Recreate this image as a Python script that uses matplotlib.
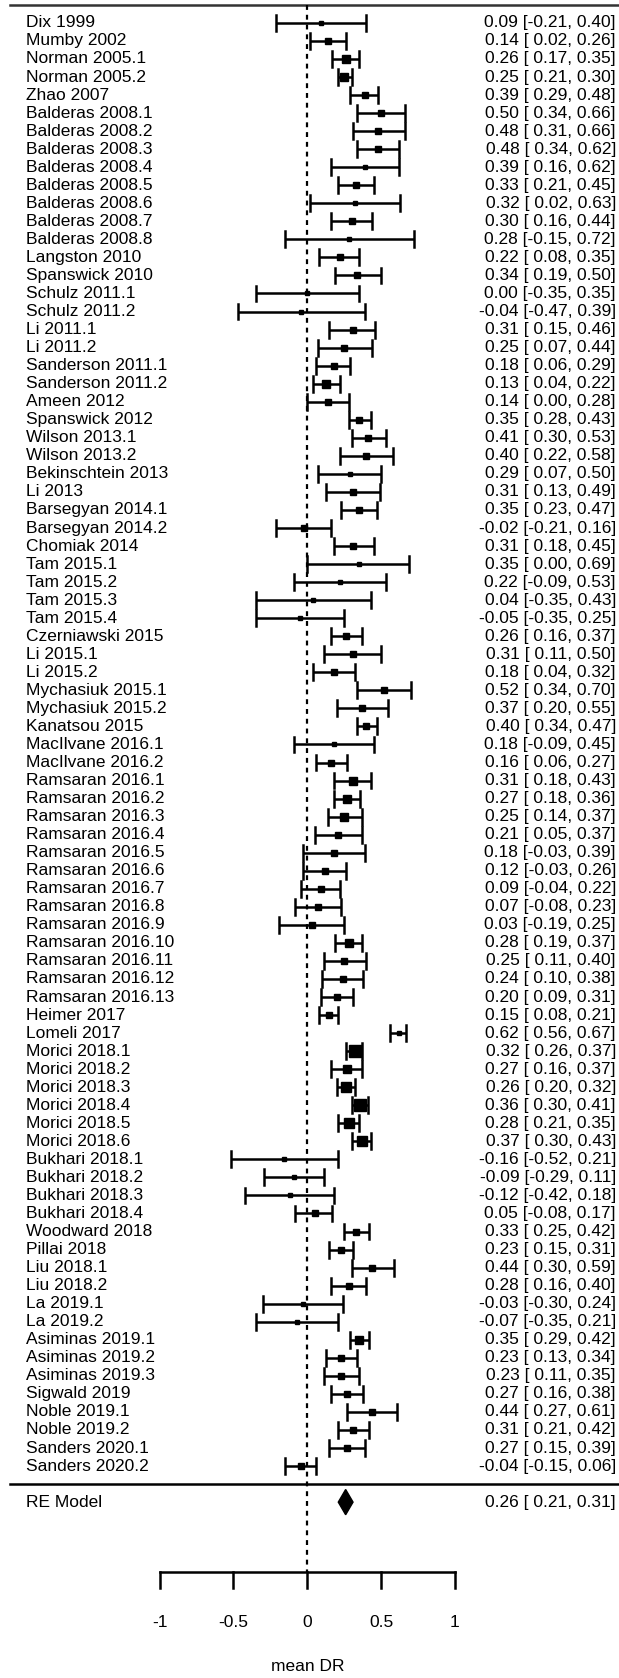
import numpy as np
import matplotlib
matplotlib.use("Agg")
import matplotlib.pyplot as plt

plt.rcParams['font.family'] = ['Liberation Sans', 'DejaVu Sans']

# --- data (top to bottom) ---
studies = [
    "Dix 1999", "Mumby 2002", "Norman 2005.1", "Norman 2005.2", "Zhao 2007",
    "Balderas 2008.1", "Balderas 2008.2", "Balderas 2008.3", "Balderas 2008.4",
    "Balderas 2008.5", "Balderas 2008.6", "Balderas 2008.7", "Balderas 2008.8",
    "Langston 2010", "Spanswick 2010", "Schulz 2011.1", "Schulz 2011.2",
    "Li 2011.1", "Li 2011.2", "Sanderson 2011.1", "Sanderson 2011.2",
    "Ameen 2012", "Spanswick 2012", "Wilson 2013.1", "Wilson 2013.2",
    "Bekinschtein 2013", "Li 2013", "Barsegyan 2014.1", "Barsegyan 2014.2",
    "Chomiak 2014", "Tam 2015.1", "Tam 2015.2", "Tam 2015.3", "Tam 2015.4",
    "Czerniawski 2015", "Li 2015.1", "Li 2015.2", "Mychasiuk 2015.1",
    "Mychasiuk 2015.2", "Kanatsou 2015", "MacIlvane 2016.1", "MacIlvane 2016.2",
    "Ramsaran 2016.1", "Ramsaran 2016.2", "Ramsaran 2016.3", "Ramsaran 2016.4",
    "Ramsaran 2016.5", "Ramsaran 2016.6", "Ramsaran 2016.7", "Ramsaran 2016.8",
    "Ramsaran 2016.9", "Ramsaran 2016.10", "Ramsaran 2016.11", "Ramsaran 2016.12",
    "Ramsaran 2016.13", "Heimer 2017", "Lomeli 2017", "Morici 2018.1",
    "Morici 2018.2", "Morici 2018.3", "Morici 2018.4", "Morici 2018.5",
    "Morici 2018.6", "Bukhari 2018.1", "Bukhari 2018.2", "Bukhari 2018.3",
    "Bukhari 2018.4", "Woodward 2018", "Pillai 2018", "Liu 2018.1", "Liu 2018.2",
    "La 2019.1", "La 2019.2", "Asiminas 2019.1", "Asiminas 2019.2",
    "Asiminas 2019.3", "Sigwald 2019", "Noble 2019.1", "Noble 2019.2",
    "Sanders 2020.1", "Sanders 2020.2",
]
estimate = [
    0.09, 0.14, 0.26, 0.25, 0.39, 0.50, 0.48, 0.48, 0.39, 0.33, 0.32, 0.30, 0.28,
    0.22, 0.34, 0.00, -0.04, 0.31, 0.25, 0.18, 0.13, 0.14, 0.35, 0.41, 0.40,
    0.29, 0.31, 0.35, -0.02, 0.31, 0.35, 0.22, 0.04, -0.05, 0.26, 0.31, 0.18,
    0.52, 0.37, 0.40, 0.18, 0.16, 0.31, 0.27, 0.25, 0.21, 0.18, 0.12, 0.09,
    0.07, 0.03, 0.28, 0.25, 0.24, 0.20, 0.15, 0.62, 0.32, 0.27, 0.26, 0.36,
    0.28, 0.37, -0.16, -0.09, -0.12, 0.05, 0.33, 0.23, 0.44, 0.28, -0.03, -0.07,
    0.35, 0.23, 0.23, 0.27, 0.44, 0.31, 0.27, -0.04,
]
ci_low = [
    -0.21, 0.02, 0.17, 0.21, 0.29, 0.34, 0.31, 0.34, 0.16, 0.21, 0.02, 0.16, -0.15,
    0.08, 0.19, -0.35, -0.47, 0.15, 0.07, 0.06, 0.04, 0.00, 0.28, 0.30, 0.22,
    0.07, 0.13, 0.23, -0.21, 0.18, 0.00, -0.09, -0.35, -0.35, 0.16, 0.11, 0.04,
    0.34, 0.20, 0.34, -0.09, 0.06, 0.18, 0.18, 0.14, 0.05, -0.03, -0.03, -0.04,
    -0.08, -0.19, 0.19, 0.11, 0.10, 0.09, 0.08, 0.56, 0.26, 0.16, 0.20, 0.30,
    0.21, 0.30, -0.52, -0.29, -0.42, -0.08, 0.25, 0.15, 0.30, 0.16, -0.30, -0.35,
    0.29, 0.13, 0.11, 0.16, 0.27, 0.21, 0.15, -0.15,
]
ci_high = [
    0.40, 0.26, 0.35, 0.30, 0.48, 0.66, 0.66, 0.62, 0.62, 0.45, 0.63, 0.44, 0.72,
    0.35, 0.50, 0.35, 0.39, 0.46, 0.44, 0.29, 0.22, 0.28, 0.43, 0.53, 0.58,
    0.50, 0.49, 0.47, 0.16, 0.45, 0.69, 0.53, 0.43, 0.25, 0.37, 0.50, 0.32,
    0.70, 0.55, 0.47, 0.45, 0.27, 0.43, 0.36, 0.37, 0.37, 0.39, 0.26, 0.22,
    0.23, 0.25, 0.37, 0.40, 0.38, 0.31, 0.21, 0.67, 0.37, 0.37, 0.32, 0.41,
    0.35, 0.43, 0.21, 0.11, 0.18, 0.17, 0.42, 0.31, 0.59, 0.40, 0.24, 0.21,
    0.42, 0.34, 0.35, 0.38, 0.61, 0.42, 0.39, 0.06,
]
# approximate study weights (%), estimated from the square sizes
weights = [
    0.6, 0.85, 1.35, 1.6, 0.85, 0.85, 0.85, 0.85, 0.7, 1.1, 0.7, 1.1, 0.6,
    0.85, 0.85, 0.7, 0.6, 0.85, 0.85, 1.2, 1.35, 0.85, 0.85, 1.1, 0.85,
    0.7, 0.85, 1.1, 1.0, 0.85, 0.7, 0.7, 0.7, 0.7, 0.85, 0.85, 1.1,
    0.85, 0.85, 1.1, 0.7, 1.0, 1.35, 1.5, 1.35, 1.1, 0.85, 1.1, 1.2,
    1.1, 0.85, 1.35, 1.1, 1.0, 1.1, 0.85, 0.7, 2.6, 1.35, 1.95, 2.5,
    1.85, 2.1, 0.6, 0.7, 0.6, 1.1, 1.0, 1.1, 0.85, 0.85, 0.6, 0.6,
    1.5, 1.2, 1.2, 0.85, 0.85, 1.1, 1.1, 1.1,
]
re_label = "RE Model"
re_est, re_low, re_high = 0.26, 0.21, 0.31
x_ticks = [-1, -0.5, 0, 0.5, 1]
x_label = "mean DR"

# --- figure ---
fig = plt.figure(figsize=(6.19, 16.78), dpi=100)
ax = fig.add_axes([0, 0, 1, 1])
ax.set_xlim(-2.082, 2.112)
ax.set_ylim(-10.75, 82.27)
ax.axis("off")

k = len(studies)
rows = np.arange(k, 0, -1)
fs = 12.5
cap = 0.44
lw = 1.8

w = np.array(weights)
psize = (w - w.min()) / (w.max() - w.min()) + 0.5   # metafor-style 0.5..1.5
msize = psize * 5.8

for y, name, est, lo, hi, ms in zip(rows, studies, estimate, ci_low, ci_high, msize):
    ax.plot([lo, hi], [y, y], color="black", lw=lw, solid_capstyle="butt")
    ax.plot([lo, lo], [y - cap, y + cap], color="black", lw=lw)
    ax.plot([hi, hi], [y - cap, y + cap], color="black", lw=lw)
    ax.plot(est, y, marker="s", ms=ms, color="black", mec="black")
    ax.text(-1.908, y, name, ha="left", va="center", fontsize=fs)
    ax.text(2.091, y, f"{est:.2f} [{lo:5.2f}, {hi:.2f}]",
            ha="right", va="center", fontsize=fs)

# horizontal separators
ax.plot([-2.014, 2.2], [82.0, 82.0], color="#333333", lw=1.8, clip_on=False)
ax.plot([-2.014, 2.2], [0.0, 0.0], color="black", lw=1.8, clip_on=False)

# reference line at zero
ax.plot([0, 0], [82.0, -4.88], color="black", lw=1.6, ls=(0, (2.2, 2.2)))

# summary diamond
y_re = -1.0
ax.fill([re_low, re_est, re_high, re_est], [y_re, y_re + 0.7, y_re, y_re - 0.7],
        color="black")
ax.text(-1.908, y_re, re_label, ha="left", va="center", fontsize=fs)
ax.text(2.091, y_re, f"{re_est:.2f} [{re_low:5.2f}, {re_high:.2f}]",
        ha="right", va="center", fontsize=fs)

# x axis
y_ax = -4.88
ax.plot([x_ticks[0], x_ticks[-1]], [y_ax, y_ax], color="black", lw=lw)
for t in x_ticks:
    ax.plot([t, t], [y_ax, y_ax - 0.88], color="black", lw=lw)
    ax.text(t, -7.65, f"{t:g}", ha="center", va="center", fontsize=fs)
ax.text(0, -10.14, x_label, ha="center", va="center", fontsize=fs)

fig.savefig("out.png", dpi=100)
